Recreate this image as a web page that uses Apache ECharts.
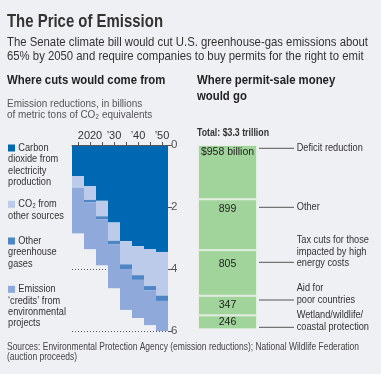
<!DOCTYPE html>
<html><head><meta charset="utf-8">
<script src="https://cdn.jsdelivr.net/npm/echarts@6/dist/echarts.min.js"></script>
<style>html,body{margin:0;padding:0;background:#eff0f4;}#c{width:381px;height:374px;}</style>
</head><body><div id="c"></div>
<script>
// ---------- data ----------
const years = ['2015','2020','2025','2030','2035','2040','2045','2050'];
const yearTickLabels = {'2020':'2020','2030':'\u201930','2040':'\u201940','2050':'\u201950'};
const electricity = [1.00, 1.33, 1.80, 2.50, 3.10, 3.26, 3.36, 3.45];
const co2Other    = [0.38, 0.44, 0.50, 0.59, 0.75, 0.94, 1.19, 1.41];
const otherGases  = [0.00, 0.08, 0.10, 0.12, 0.15, 0.15, 0.14, 0.17];
const credits     = [1.47, 1.51, 1.48, 1.41, 1.32, 1.23, 1.12, 0.97];
const cutSeriesNames = ['Carbon dioxide from electricity production','CO\u2082 from other sources','Other greenhouse gases','Emission \u2018credits\u2019 from environmental projects'];
const reductionTicks = [0, 2, 4, 6];

const moneyUses   = ['Deficit reduction','Other','Tax cuts for those impacted by high energy costs','Aid for poor countries','Wetland/wildlife/coastal protection'];
const moneyValues = [958, 899, 805, 347, 246];

// ---------- fonts ----------
const FONT = "'Liberation Sans', Arial, sans-serif";
const mctx = document.createElement('canvas').getContext('2d');
function mw(text,size,w){ mctx.font=(w||'normal')+' '+size+'px '+FONT; return mctx.measureText(text).width; }

const S = {
  title:{size:18.5,w:'bold',c:'#333'},
  sub:{size:13,w:'normal',c:'#333'},
  head:{size:13,w:'bold',c:'#222'},
  note:{size:11.5,w:'normal',c:'#555'},
  total:{size:11,w:'bold',c:'#333'},
  leg:{size:11.5,w:'normal',c:'#333'},
  src:{size:11.5,w:'normal',c:'#444'}
};
// horizontal condensing factors (the original uses a narrow typeface)
S.title.k = 156 / mw('The Price of Emission',S.title.size,S.title.w);
S.sub.k   = 361 / mw('The Senate climate bill would cut U.S. greenhouse-gas emissions about',S.sub.size,S.sub.w);
S.head.k  = 158.4 / mw('Where cuts would come from',S.head.size,S.head.w);
S.note.k  = 135.3 / mw('Emission reductions, in billions',S.note.size,S.note.w);
S.total.k = 72 / mw('Total: $3.3 trillion',S.total.size,S.total.w);
S.leg.k   = 72.3 / mw('coastal protection',S.leg.size,S.leg.w);
S.src.k   = 352 / mw('Sources: Environmental Protection Agency (emission reductions); National Wildlife Federation',S.src.size,S.src.w);

const BG='#eff0f4';
const C_DARK='#0068b3', C_LIGHT='#bccbea', C_GHG='#4d85c5', C_CRED='#8fa9db', C_GREEN='#a0d49b';
const cutColors=[C_DARK,C_LIGHT,C_GHG,C_CRED];
const cutData=[electricity,co2Other,otherGases,credits];

const chart = echarts.init(document.getElementById('c'), null, {renderer:'canvas'});

function txt(x,y,text,st){
  return {type:'text',x:x,y:y,scaleX:st.k,silent:true,style:{text:text,fontSize:st.size,fontFamily:FONT,fontWeight:st.w,fill:st.c,
    textVerticalAlign:'middle',textAlign:'left'}};
}

const graphics=[
  txt(7,21.5,'The Price of Emission',S.title),
  txt(7,42.7,'The Senate climate bill would cut U.S. greenhouse-gas emissions about',S.sub),
  txt(7,56.7,'65% by 2050 and require companies to buy permits for the right to emit',S.sub),
  txt(7,80.7,'Where cuts would come from',S.head),
  txt(197,80.7,'Where permit-sale money',S.head),
  txt(197,96,'would go',S.head),
  txt(7,104.3,'Emission reductions, in billions',S.note),
  txt(7,114.5,'of metric tons of CO\u2082 equivalents',S.note),
  txt(197,132.7,'Total: $3.3 trillion',S.total),
  txt(7,346.7,'Sources: Environmental Protection Agency (emission reductions); National Wildlife Federation',S.src),
  txt(7,357.3,'(auction proceeds)',S.src)
];
// legend
const legendY=[148,204.3,241,289.3];
const legendLines=[['Carbon','dioxide from','electricity','production'],['CO\u2082 from','other sources'],['Other','greenhouse','gases'],['Emission','\u2018credits\u2019 from','environmental','projects']];
legendLines.forEach((ls,i)=>{
  graphics.push({type:'rect',silent:true,shape:{x:8,y:legendY[i]-3.5,width:7,height:7},style:{fill:cutColors[i]}});
  ls.forEach((l,j)=>graphics.push(txt(j===0?18.3:8,legendY[i]+j*11.3,l,S.leg)));
});
// annotations
const ann=[
  {lines:['Deficit reduction'],ty:148,ly:148.3},
  {lines:['Other'],ty:207,ly:207.3},
  {lines:['Tax cuts for those','impacted by high','energy costs'],ty:240,ly:262.3},
  {lines:['Aid for','poor countries'],ty:288.3,ly:300},
  {lines:['Wetland/wildlife/','coastal protection'],ty:315,ly:327.3}
];
ann.forEach(a=>{
  graphics.push({type:'line',silent:true,shape:{x1:259,y1:a.ly,x2:294,y2:a.ly},style:{stroke:'#555',lineWidth:1}});
  a.lines.forEach((l,j)=>graphics.push(txt(296.7,a.ty+j*11.5,l,S.leg)));
});

const series=[];
cutData.forEach((d,i)=>{
  series.push({type:'bar',name:cutSeriesNames[i],xAxisIndex:0,yAxisIndex:0,stack:'cuts',data:d,barWidth:'100%',barCategoryGap:0,
    itemStyle:{color:cutColors[i]},silent:true,animation:false});
});
const insideDist=[1.5,4.5,8.5];
moneyValues.forEach((v,i)=>{
  series.push({type:'bar',name:moneyUses[i],xAxisIndex:1,yAxisIndex:1,stack:'money',data:[v],barWidth:'100%',
    itemStyle:{color:C_GREEN,borderColor:'#e4eee1',borderWidth:1},silent:true,animation:false,
    label:{show:true,position:i<3?'insideTop':'inside',distance:i<3?insideDist[i]:0,fontFamily:FONT,fontSize:10.5,fontWeight:'normal',color:'#222',
      formatter:i===0?('$'+v+' billion'):String(v)}});
});

chart.setOption({
  backgroundColor:BG,
  animation:false,
  textStyle:{fontFamily:FONT},
  grid:[{left:72,top:145,width:96,height:186},{left:198,top:145,width:59,height:184.3}],
  xAxis:[
    {type:'category',gridIndex:0,data:years,position:'top',boundaryGap:true,z:10,
      axisLine:{lineStyle:{color:'#555',width:1}},
      axisTick:{show:true,alignWithLabel:true,interval:0,length:3,lineStyle:{color:'#555'}},
      axisLabel:{interval:0,margin:4,fontSize:11,color:'#333',fontFamily:FONT,formatter:v=>yearTickLabels[v]||''}},
    {type:'category',gridIndex:1,data:['total'],show:false}
  ],
  yAxis:[
    {type:'value',gridIndex:0,inverse:true,min:0,max:6,interval:2,position:'right',
      axisLine:{show:false},axisTick:{show:true,length:4,lineStyle:{color:'#555'}},
      axisLabel:{margin:3,fontSize:11.5,color:'#555',fontFamily:FONT,formatter:v=>reductionTicks.includes(v)?String(v):''},
      splitLine:{show:true,showMinLine:false,lineStyle:{type:[1,2],color:'#555',width:1}}},
    {type:'value',gridIndex:1,inverse:true,min:0,max:moneyValues.reduce((a,b)=>a+b,0),show:false,splitLine:{show:false}}
  ],
  series:series,
  graphic:graphics
});
</script></body></html>
